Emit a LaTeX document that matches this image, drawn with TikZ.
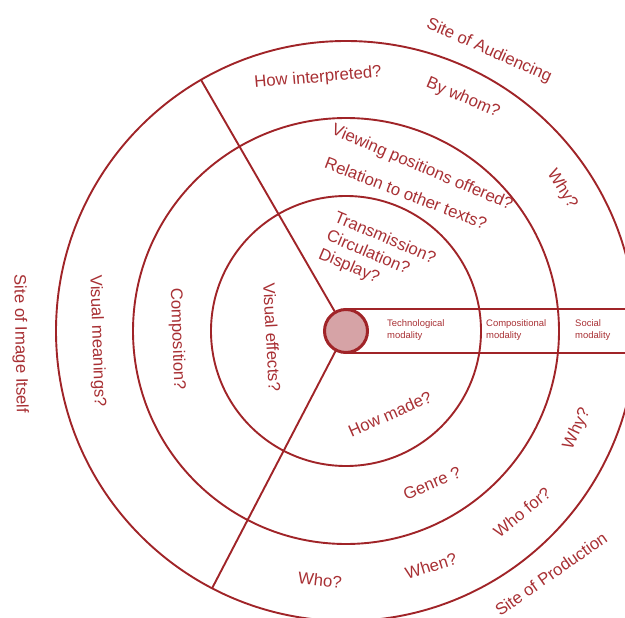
\documentclass[tikz,border=0pt]{standalone}
\usepackage{fontspec}
\setmainfont{Liberation Sans}
\usetikzlibrary{calc}
\definecolor{lred}{RGB}{160,36,40}
\definecolor{tred}{RGB}{168,48,52}
\definecolor{pfill}{RGB}{214,163,166}
\begin{document}
\begin{tikzpicture}[x=1bp,y=-1bp,
  ring/.style={draw=lred, line width=1.9bp},
  lbl/.style={text=tred, font=\fontsize{16.8}{20}\selectfont, inner sep=0pt},
  small/.style={text=tred, font=\fontsize{9.5}{12}\selectfont, inner sep=0pt, align=left, anchor=west}]
\useasboundingbox (0,0) rectangle (625,618);
\clip (0,0) rectangle (625,618);
\coordinate (c) at (346,331);
% rings
\draw[ring] (c) circle [radius=135];
\draw[ring] (c) circle [radius=213];
\draw[ring] (c) circle [radius=290];
% spokes
\coordinate (u1) at ($(c)+(-120:22)$);
\coordinate (u2) at ($(c)+(-120:290)$);
\coordinate (d1) at ($(c)+(117.5:22)$);
\coordinate (d2) at ($(c)+(117.5:290)$);
\draw[ring] (u1) -- (u2);
\draw[ring] (d1) -- (d2);
% band
\coordinate (bt1) at (346,309);
\coordinate (bt2) at (640,309);
\coordinate (bb1) at (346,353);
\coordinate (bb2) at (640,353);
\draw[ring] (bt1) -- (bt2);
\draw[ring] (bb1) -- (bb2);
% hub
\node[circle, draw=lred, line width=3bp, fill=pfill, minimum size=43bp, inner sep=0pt] (hub) at (c) {};
% band labels
\node[small] (tech) at (387,330) {Technological\\modality};
\node[small] (comp) at (486,330) {Compositional\\modality};
\node[small] (soc) at (575,330) {Social\\modality};
% top labels
\node[lbl, rotate=-24] (aud) at (489,51) {Site of Audiencing};
\node[lbl, rotate=5] (howi) at (318,78) {How interpreted?};
\node[lbl, rotate=-23] (bywhom) at (463,98) {By whom?};
\node[lbl, rotate=-23] (view) at (422,168) {Viewing positions offered?};
\node[lbl, rotate=-21] (rel) at (406,193) {Relation to other texts?};
\node[lbl, rotate=-58] (whytop) at (562,189) {Why?};
\node[lbl, rotate=-23, align=left] (trans) at (377,257) {Transmission?\\Circulation?\\Display?};
% left labels
\node[lbl, rotate=-87] (veff) at (272,337) {Visual effects?};
\node[lbl, rotate=-88] (compq) at (177,339) {Composition?};
\node[lbl, rotate=-88] (vmean) at (97,341) {Visual meanings?};
\node[lbl, rotate=-89] (siteimg) at (20,344) {Site of Image Itself};
% bottom labels
\node[lbl, rotate=24] (howm) at (390,414) {How made?};
\node[lbl, rotate=23] (genre) at (432,483) {Genre ?};
\node[lbl, rotate=65] (whybot) at (577,429) {Why?};
\node[lbl, rotate=39] (whofor) at (522,512) {Who for?};
\node[lbl, rotate=17] (when) at (431,566) {When?};
\node[lbl, rotate=-6] (who) at (320,580) {Who?};
\node[lbl, rotate=35] (prod) at (551,574) {Site of Production};
\end{tikzpicture}
\end{document}
